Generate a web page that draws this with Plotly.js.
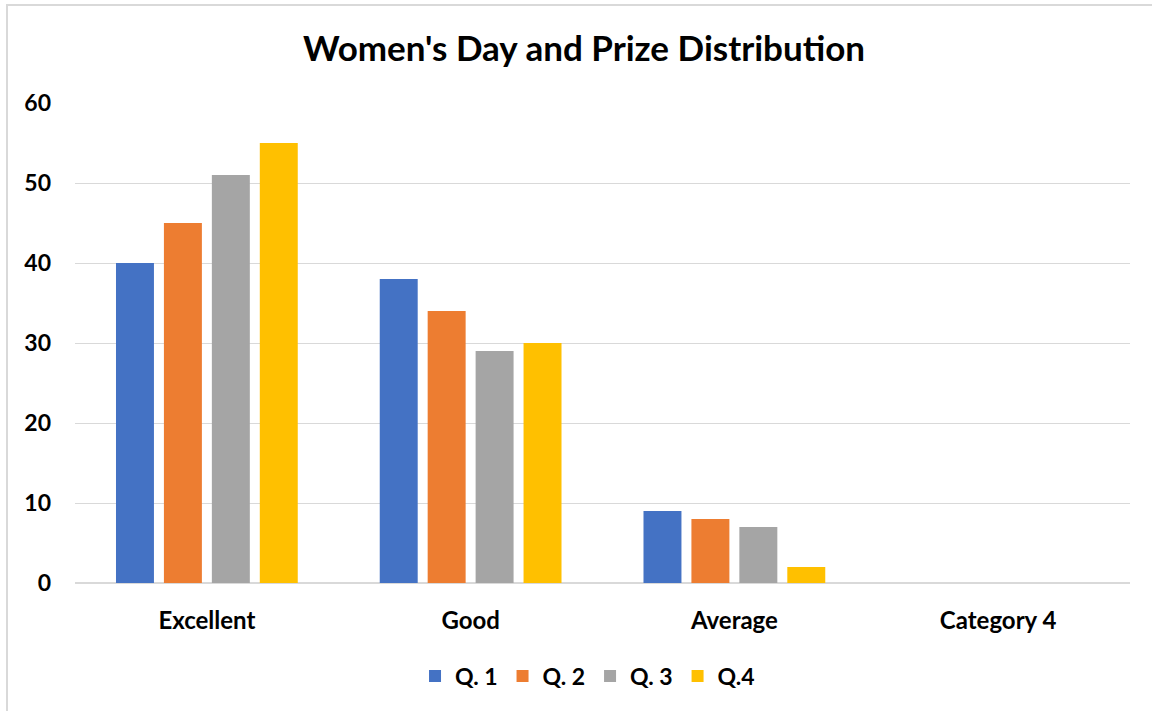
<!DOCTYPE html>
<html>
<head>
<meta charset="utf-8">
<script src="https://cdn.plot.ly/plotly-3.0.1.min.js"></script>
<style>
html,body{margin:0;padding:0;background:#fff;}
#wrap{position:relative;width:1152px;height:711px;overflow:hidden;}
#chart{width:1152px;height:711px;}
#frame{position:absolute;left:6px;top:4px;width:1160px;height:720px;border:2px solid #d9d9d9;box-sizing:border-box;pointer-events:none;}
</style>
</head>
<body>
<div id="wrap"><div id="chart"></div><div id="frame"></div></div>
<script>
const categories = ["Excellent", "Good", "Average", "Category 4"];
const seriesNames = ["Q. 1", "Q. 2", "Q. 3", "Q.4"];
const q1 = [40, 38, 9, 0];
const q2 = [45, 34, 8, 0];
const q3 = [51, 29, 7, 0];
const q4 = [55, 30, 2, 0];
const colors = ["#4472C4", "#ED7D31", "#A5A5A5", "#FFC000"];
const values = [q1, q2, q3, q4];

const FONT = "Lato, 'Open Sans', sans-serif";
const traces = values.map((v, i) => ({
  type: "bar",
  x: categories,
  y: v,
  name: seriesNames[i],
  marker: {color: colors[i]},
  hoverinfo: "x+y+name"
}));

const layout = {
  width: 1152, height: 711,
  margin: {l: 75, r: 22, t: 103, b: 128},
  paper_bgcolor: "#fff", plot_bgcolor: "#fff",
  font: {family: FONT, color: "#000", weight: 700},
  title: {text: "<b>Women's Day and Prize Distribution</b>", x: 0.507, xref: "container", y: 0.932, yanchor: "middle",
          font: {family: FONT, size: 35, color: "#000"}},
  barmode: "group",
  bargap: 0.273,
  bargroupgap: 0.208,
  xaxis: {
    type: "category",
    tickfont: {family: FONT, size: 24, color: "#000", weight: 700},
    showgrid: false, showline: false, zeroline: false,
    ticks: "", ticklabelstandoff: 21
  },
  yaxis: {
    range: [0, 60], dtick: 10, tick0: 0,
    tickfont: {family: FONT, size: 23, color: "#000", weight: 700},
    showgrid: true, gridcolor: "#d9d9d9", gridwidth: 1,
    zeroline: true, zerolinecolor: "#d9d9d9", zerolinewidth: 2,
    showline: false, ticks: "", ticklabelstandoff: 23
  },
  legend: {
    orientation: "h", x: 0.51, xref: "container", xanchor: "center", y: 0.049, yref: "container", yanchor: "middle",
    font: {family: FONT, size: 23, color: "#000", weight: 700},
    itemwidth: 30, traceorder: "normal"
  },
  showlegend: true
};

Plotly.newPlot("chart", traces, layout, {displayModeBar: false, staticPlot: true});
</script>
</body>
</html>
